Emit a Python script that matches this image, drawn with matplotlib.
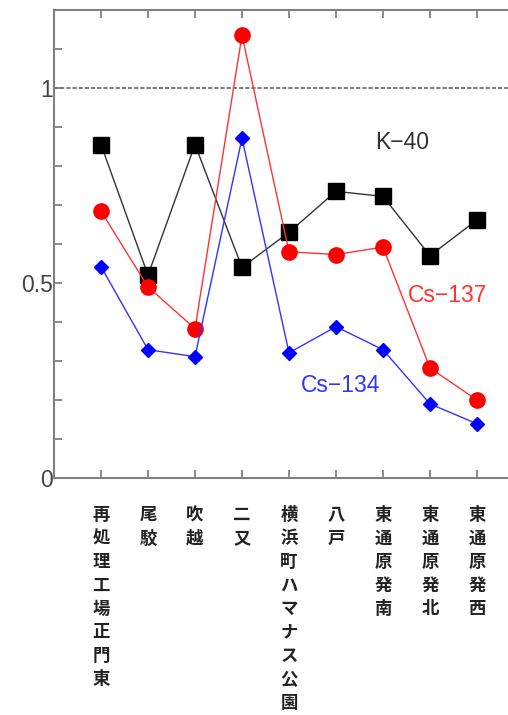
import numpy as np
import matplotlib
matplotlib.use('Agg')
import matplotlib.pyplot as plt
from matplotlib.ticker import MultipleLocator

# measured ratios per sampling site
sites = ['再処理工場正門東', '尾駮', '吹越', '二又', '横浜町ハマナス公園',
         '八戸', '東通原発南', '東通原発北', '東通原発西']
k40 = [0.855, 0.52, 0.855, 0.54, 0.63, 0.735, 0.722, 0.57, 0.662]
cs137 = [0.684, 0.49, 0.383, 1.135, 0.58, 0.573, 0.592, 0.282, 0.2]
cs134 = [0.542, 0.329, 0.311, 0.871, 0.321, 0.388, 0.329, 0.19, 0.139]

x = np.arange(1, len(sites) + 1)

fig = plt.figure(figsize=(5.08, 7.15), dpi=100)
# axes runs past the right edge, like the original crop
ax = fig.add_axes([54 / 508, 237 / 715, 470 / 508, 468 / 715])

ax.axhline(1.0, color='#666666', lw=1.2, ls=(0, (2.5, 1.2)), zorder=1)

ax.plot(x, k40, color='#333333', lw=1.0, marker='s', ms=12, mfc='black', mec='black', zorder=3)
ax.plot(x, cs137, color='#ff3333', lw=1.0, marker='o', ms=11, mfc='red', mec='red', zorder=3)
ax.plot(x, cs134, color='#3333ff', lw=1.0, marker='D', ms=7, mfc='blue', mec='blue', zorder=3)

lab_font = 'Liberation Sans'
ax.text(7.4, 0.859, 'K\u221240', color='#333333', fontsize=16.5, family=lab_font, ha='center', va='center')
ax.text(8.37, 0.467, 'Cs\u2212137', color='#ff3333', fontsize=16.5, family=lab_font, ha='center', va='center')
ax.text(6.09, 0.238, 'Cs\u2212134', color='#3333ff', fontsize=16.5, family=lab_font, ha='center', va='center')

ax.set_xlim(0, 10)
ax.set_ylim(0, 1.2)
ax.set_yticks([0, 0.5, 1])
ax.set_yticklabels(['0', '0.5', '1'], family=lab_font, fontsize=16.5, color='#444444')
ax.yaxis.set_minor_locator(MultipleLocator(0.1))
ax.set_xticks(x)
ax.set_xticklabels([])
ax.tick_params(axis='both', which='both', direction='in', color='#777777', width=1.2)
ax.tick_params(axis='y', which='major', length=6, pad=1)
ax.tick_params(axis='y', which='minor', length=6)
ax.tick_params(axis='x', length=6, top=True)

for sp in ax.spines.values():
    sp.set_color('#808080')
    sp.set_linewidth(1.5)

# vertical (tategaki) site labels
for xi, name in zip(x, sites):
    ax.text(xi, -0.072, '\n'.join(name), transform=ax.transData,
            ha='center', va='top', fontsize=12.5, linespacing=1.39,
            family=['Noto Sans CJK JP', 'DejaVu Sans'], color='#222222',
            fontweight='bold', clip_on=False)

fig.savefig('out.png', dpi=100)
